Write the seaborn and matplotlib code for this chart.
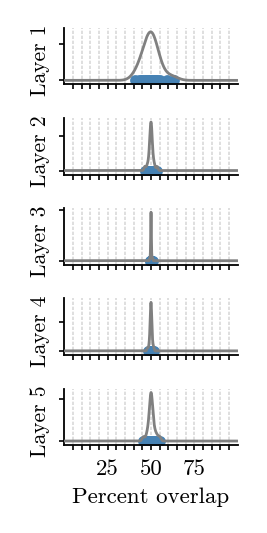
import numpy as np
import matplotlib
matplotlib.use("Agg")
import matplotlib.pyplot as plt
import seaborn as sns

# ---- data (percent overlap values per layer) ----
layer_names = ["Layer 1", "Layer 2", "Layer 3", "Layer 4", "Layer 5"]
layer1 = [41, 43, 44, 45, 46, 47, 47, 48, 48, 49, 49, 49, 50, 50, 50, 50,
          51, 51, 51, 52, 52, 53, 53, 54, 55, 59, 63]
layer2 = [46.5, 47.8, 48.5, 49.0, 49.2, 49.4, 49.5, 49.6, 49.8, 49.9, 50.0,
          50.0, 50.0, 50.1, 50.2, 50.3, 50.4, 50.5, 50.7, 51.0, 51.4, 52.0, 53.5]
layer3 = [49.3, 49.6, 49.8, 49.8, 49.9, 49.9, 49.9, 50.0, 50.0, 50.0, 50.0,
          50.0, 50.0, 50.0, 50.0, 50.0, 50.0, 50.0, 50.0, 50.1, 50.1, 50.1,
          50.1, 50.2, 50.2, 50.2, 50.4, 50.6, 51.0]
layer4 = [48.0, 48.8, 49.2, 49.4, 49.5, 49.6, 49.7, 49.8, 49.8, 49.9, 49.9,
          50.0, 50.0, 50.0, 50.0, 50.0, 50.1, 50.1, 50.2, 50.2, 50.3, 50.4,
          50.5, 50.7, 51.0, 51.5]
layer5 = [45.6, 47.5, 48.3, 48.8, 49.1, 49.4, 49.6, 49.8, 49.9, 50.0, 50.0,
          50.1, 50.2, 50.3, 50.5, 50.7, 51.0, 51.3, 51.8, 52.5, 53.5, 55.0]
layers = [layer1, layer2, layer3, layer4, layer5]

x_ticks = list(range(5, 100, 5))
x_tick_labels = ["25", "50", "75"]
x_label = "Percent overlap"

# style parameters
bw_adjust = [1.4, 0.7, 1.0, 1.0, 0.7]
ytick_frac = [0.74, 0.72, 1.04, 0.60, 0.86]

sns.set_theme(style="ticks")
plt.rcParams.update({
    "font.family": ["cmr10", "DejaVu Serif"],
    "axes.formatter.use_mathtext": True,
    "mathtext.fontset": "cm",
    "axes.edgecolor": "black",
    "xtick.color": "black",
    "ytick.color": "black",
    "text.color": "black",
    "axes.labelcolor": "black",
})

fig, axes = plt.subplots(5, 1, figsize=(2.67, 5.33), dpi=100, sharex=True)
fig.subplots_adjust(left=0.241, right=0.890, top=0.9475, bottom=0.1651,
                    hspace=0.60)

for i, (ax, name, vals) in enumerate(zip(axes, layer_names, layers)):
    sns.scatterplot(x=vals, y=np.zeros(len(vals)), ax=ax, color="steelblue",
                    s=60, linewidth=0, zorder=2, legend=False)
    sns.kdeplot(x=vals, ax=ax, color="gray", lw=2, clip=(0, 100), cut=100000,
                gridsize=6000, bw_adjust=bw_adjust[i], zorder=3)
    ax.set_xlim(0, 100)
    ax.set_xticks(x_ticks)
    ax.grid(axis="x", color="#d9d9d9", ls=(0, (2, 1)), lw=1.2, zorder=0)
    ax.set_axisbelow(True)
    peak = max(np.max(l.get_ydata()) for l in ax.get_lines())
    ax.set_ylim(-0.082 * peak, 1.08 * peak)
    ax.set_yticks([0, ytick_frac[i] * peak])
    ax.set_yticklabels([])
    ax.set_ylabel(name, fontsize=15.5, labelpad=3)
    ax.yaxis.label.set_y(0.42)
    sns.despine(ax=ax)
    for sp in ax.spines.values():
        sp.set_linewidth(1.3)
    ax.tick_params(length=3.6, width=1.2)
    ax.tick_params(axis="x", pad=7)
    if i < 4:
        ax.tick_params(labelbottom=False)
    ax.set_xlabel("")

axes[-1].set_xticklabels([str(v) if str(v) in x_tick_labels else ""
                          for v in x_ticks], fontsize=16.5)
axes[-1].set_xlabel(x_label, fontsize=16.5, labelpad=6)

fig.savefig("out.png", dpi=100)
